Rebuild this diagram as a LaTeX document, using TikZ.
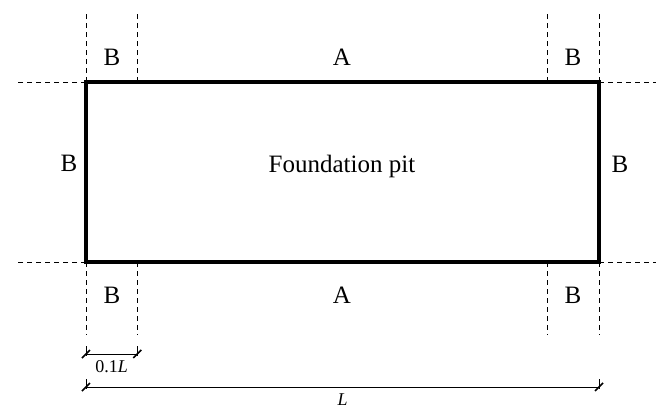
\documentclass[tikz,border=0pt]{standalone}
\usepackage{fontspec}
\setmainfont{Liberation Serif}
\usetikzlibrary{positioning, calc}

\tikzset{dimtick/.pic={
    \draw[line width=0.8pt] (-4,4) -- (4,-4);
    \draw[line width=0.5pt] (0,-8) -- (0,2);}}

\begin{document}
\begin{tikzpicture}[x=0.5pt, y=-0.5pt,
            every node/.style={font=\fontsize{12.5}{15}\selectfont},
            guide/.style={line width=0.5pt, dash pattern=on 2.5pt off 2pt},
            dimline/.style={line width=0.5pt},
            dimlabel/.style={font=\fontsize{9}{11}\selectfont, inner sep=3pt}]
            \useasboundingbox (0,0) rectangle (656,408);
            \node[draw, line width=1.6pt, outer sep=0pt, inner sep=0pt,
                  minimum width=256.5pt, minimum height=90pt] (pit) at (342.5,172) {};
            \node (name) at (342,166) {Foundation pit};
            % points at 0.1L from each end
            \coordinate (ta) at ($(pit.north west)!0.1!(pit.north east)$);
            \coordinate (tb) at ($(pit.north east)!0.1!(pit.north west)$);
            \coordinate (ba) at ($(pit.south west)!0.1!(pit.south east)$);
            \coordinate (bb) at ($(pit.south east)!0.1!(pit.south west)$);
            \foreach \c in {pit.north west, ta, tb, pit.north east}
                \draw[guide] (\c) -- ++(0,-69);
            \foreach \c in {pit.south west, ba, bb, pit.south east}
                \draw[guide] (\c) -- ++(0,73);
            \draw[guide] (pit.north west) -- ++(-70,0);
            \draw[guide] (pit.south west) -- ++(-70,0);
            \draw[guide] (pit.north east) -- ++(57,0);
            \draw[guide] (pit.south east) -- ++(57,0);
            % zones
            \node (b1) at (112,57) {B};
            \node (a1) at (342,57) {A};
            \node (b2) at (573,57) {B};
            \node (b3) at (69,163) {B};
            \node (b4) at (620,164) {B};
            \node (b5) at (112,295) {B};
            \node (a2) at (342,295) {A};
            \node (b6) at (573,295) {B};
            % dimensions
            \coordinate (d1) at ($(pit.south west)+(0,92)$);
            \coordinate (d2) at ($(ba)+(0,92)$);
            \coordinate (d3) at ($(pit.south west)+(0,125)$);
            \coordinate (d4) at ($(pit.south east)+(0,125)$);
            \draw[dimline] (d1) -- node[below, dimlabel] {0.1\textit{L}} (d2);
            \draw[dimline] (d3) -- node[below, dimlabel] {\textit{L}} (d4);
            \foreach \c in {d1, d2, d3, d4}
                \pic at (\c) {dimtick};
        \end{tikzpicture}
\end{document}
